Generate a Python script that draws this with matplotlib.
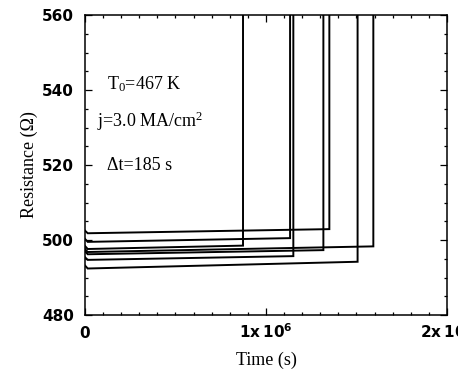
import numpy as np
import matplotlib
matplotlib.use("Agg")
import matplotlib.pyplot as plt
from matplotlib.ticker import MultipleLocator

serif = "Liberation Serif"
plt.rcParams["mathtext.fontset"] = "custom"
plt.rcParams["mathtext.rm"] = serif
plt.rcParams["mathtext.it"] = serif + ":italic"
plt.rcParams["mathtext.bf"] = "DejaVu Sans:bold"

# failure time (s) of each line, and resistance readings (ohm) along it
T_FAIL = [0.873e6, 1.133e6, 1.151e6, 1.317e6, 1.350e6, 1.506e6, 1.593e6]
R_T0 = [498.4, 500.3, 495.4, 497.0, 502.5, 493.2, 497.6]      # at t = 0
R_START = [497.6, 499.5, 494.7, 496.2, 501.8, 492.4, 496.8]   # just after start
R_END = [498.5, 500.5, 495.7, 497.3, 502.9, 494.2, 498.3]     # just before failure
R_OPEN = 600.0                                                # off-scale after failure
T_START = 0.015e6

XTICKS = [0, 1e6, 2e6]
XTICKLABELS = [r"$\mathbf{0}$", r"$\mathbf{1x\;10^{6}}$", r"$\mathbf{2x\;10^{6}}$"]
YTICKS = [480, 500, 520, 540, 560]

fig = plt.figure(figsize=(4.58, 3.73), dpi=100)
ax = fig.add_axes([85 / 458, 58 / 373, 362 / 458, 300 / 373])

for tf, r0, rs, re in zip(T_FAIL, R_T0, R_START, R_END):
    t = [0, T_START, tf, tf]
    r = [r0, rs, re, R_OPEN]
    ax.plot(t, r, color="black", lw=1.4, solid_joinstyle="miter")

ax.set_xlim(0, 2e6)
ax.set_ylim(480, 560)
ax.set_yticks(YTICKS)
ax.yaxis.set_minor_locator(MultipleLocator(5))
ax.set_xticks(XTICKS)
ax.xaxis.set_minor_locator(MultipleLocator(1e5))
ax.set_xticklabels([])
for x, lab in zip(XTICKS, XTICKLABELS):
    ax.text(x, -0.077, lab, transform=ax.get_xaxis_transform(), ha="center",
            va="baseline", fontsize=11, clip_on=False)

ax.tick_params(which="both", direction="in", top=True, right=True, width=0.9)
ax.tick_params(which="major", length=5)
ax.tick_params(which="minor", length=2.5)
ax.tick_params(axis="y", pad=8, labelsize=11)
for lab in ax.get_yticklabels():
    lab.set_fontweight("bold")
for sp in ax.spines.values():
    sp.set_linewidth(1.1)

ax.set_ylabel("Resistance (\u03a9)", fontfamily=serif, fontsize=13, labelpad=3)
ax.set_xlabel("Time (s)", fontfamily=serif, fontsize=13, labelpad=23)

ax.text(0.062, 0.77, r"T$_0$=467 K", transform=ax.transAxes, fontfamily=serif,
        fontsize=13, va="center")
ax.text(0.033, 0.645, r"j=3.0 MA/cm$^2$", transform=ax.transAxes, fontfamily=serif,
        fontsize=13, va="center")
ax.text(0.062, 0.50, "\u0394t=185 s", transform=ax.transAxes, fontfamily=serif,
        fontsize=13, va="center")

fig.savefig("out.png", dpi=100, facecolor="white")
